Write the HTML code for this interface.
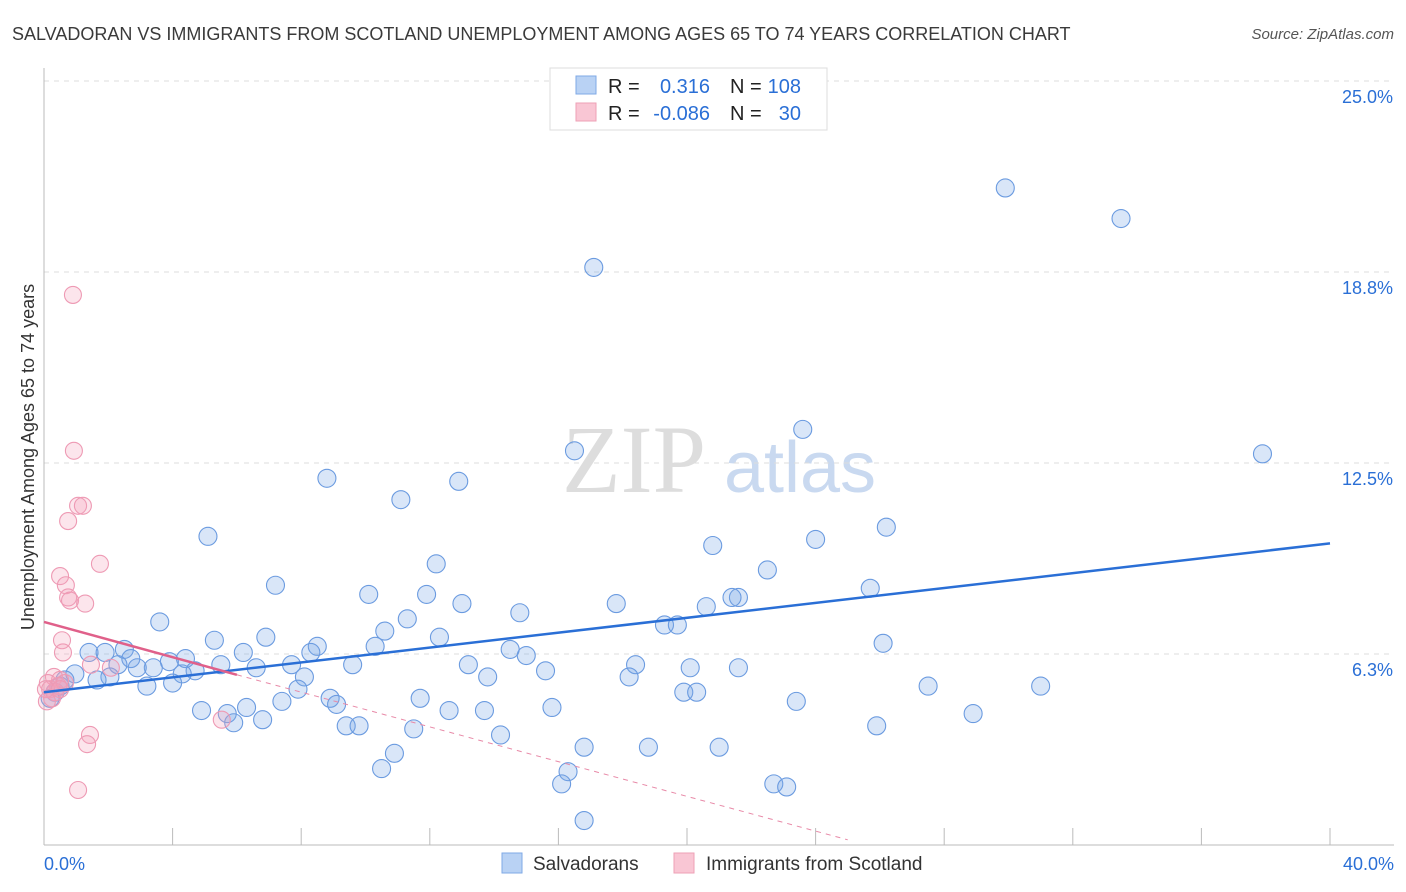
<!DOCTYPE html>
<html><head><meta charset="utf-8"><style>
body{margin:0;background:#fff;font-family:"Liberation Sans",sans-serif}
svg{display:block}
</style></head><body>
<svg id="c" width="1406" height="892" xmlns="http://www.w3.org/2000/svg">
<text x="12" y="40" font-size="18" fill="#3a3a3a">SALVADORAN VS IMMIGRANTS FROM SCOTLAND UNEMPLOYMENT AMONG AGES 65 TO 74 YEARS CORRELATION CHART</text>
<text x="1394" y="39" font-size="15" fill="#555" font-style="italic" text-anchor="end">Source: ZipAtlas.com</text>
<text x="634" y="492" font-size="96" fill="#ddd" font-family="Liberation Serif" text-anchor="middle">ZIP</text>
<text x="800" y="492" font-size="72" fill="#c9d9f0" text-anchor="middle">atlas</text>
<text transform="translate(34,457) rotate(-90)" font-size="18" fill="#333" text-anchor="middle">Unemployment Among Ages 65 to 74 years</text>
<g id="grid"></g><g id="pts"></g><g id="lines"></g>
<g>
<rect x="550" y="68" width="277" height="62" fill="#fff" stroke="#ddd"/>
<rect x="576" y="76" width="20" height="18" fill="#b9d2f4" stroke="#7fa9e6"/>
<rect x="576" y="103" width="20" height="18" fill="#f9c6d4" stroke="#eea0b6"/>
<text x="608" y="93" font-size="20" fill="#222">R = </text><text x="710" y="93" font-size="20" fill="#2a6fd6" text-anchor="end">0.316</text>
<text x="730" y="93" font-size="20" fill="#222">N = </text><text x="801" y="93" font-size="20" fill="#2a6fd6" text-anchor="end">108</text>
<text x="608" y="120" font-size="20" fill="#222">R = </text><text x="710" y="120" font-size="20" fill="#2a6fd6" text-anchor="end">-0.086</text>
<text x="730" y="120" font-size="20" fill="#222">N = </text><text x="801" y="120" font-size="20" fill="#2a6fd6" text-anchor="end">30</text>
</g>
<g>
<rect x="502" y="853" width="20" height="20" fill="#b9d2f4" stroke="#7fa9e6"/>
<text x="533" y="870" font-size="19" fill="#333">Salvadorans</text>
<rect x="674" y="853" width="20" height="20" fill="#f9c6d4" stroke="#eea0b6"/>
<text x="706" y="870" font-size="19" fill="#333">Immigrants from Scotland</text>
</g>
</svg>
<script>
const yTicks=[6.25,12.5,18.75,25];
const yTickLabels=["6.3%","12.5%","18.8%","25.0%"];
const xLabels=["0.0%","40.0%"];
const blueX=[29.9,33.5,17.1,23.6,16.5,37.9,8.8,12.9,11.1,26.2,5.1,20.8,24.0,12.2,22.5,7.2,10.1,11.9,25.7,17.8,13.0,21.6,21.4,20.6,14.8,3.6,11.3,19.3,19.7,10.6,5.3,6.9,12.3,26.1,8.5,10.3,14.5,1.4,1.9,2.5,2.7,6.2,4.4,8.3,15.0,3.9,7.7,6.6,5.5,4.7,2.3,3.4,2.9,9.6,13.2,18.4,20.1,21.6,15.6,0.96,2.05,1.65,4.3,8.1,18.2,13.8,4.0,3.2,7.9,27.5,31.0,19.9,20.3,8.9,11.7,7.4,9.1,23.4,6.3,4.9,5.7,12.6,13.7,15.8,28.9,5.9,6.8,9.4,9.8,11.5,25.9,14.2,18.8,21.0,16.8,10.9,10.5,16.3,22.7,23.1,16.1,16.8,0.5,0.34,0.19,0.65];
const blueY=[21.5,20.5,18.9,13.6,12.9,12.8,12.0,11.9,11.3,10.4,10.1,9.8,10.0,9.2,9.0,8.5,8.2,8.2,8.4,7.9,7.9,8.1,8.1,7.8,7.6,7.3,7.4,7.2,7.2,7.0,6.7,6.8,6.8,6.6,6.5,6.5,6.4,6.3,6.3,6.4,6.1,6.3,6.1,6.3,6.2,6.0,5.9,5.8,5.9,5.7,5.9,5.8,5.8,5.9,5.9,5.9,5.8,5.8,5.7,5.6,5.5,5.4,5.6,5.5,5.5,5.5,5.3,5.2,5.1,5.2,5.2,5.0,5.0,4.8,4.8,4.7,4.6,4.7,4.5,4.4,4.3,4.4,4.4,4.5,4.3,4.0,4.1,3.9,3.9,3.8,3.9,3.6,3.2,3.2,3.2,3.0,2.5,2.4,2.0,1.9,2.0,0.8,5.2,5.0,4.8,5.4];
const pinkX=[0.9,0.93,1.06,1.21,0.75,1.74,0.5,0.68,0.75,0.81,1.28,0.56,0.59,1.46,2.08,0.31,0.5,0.12,0.19,0.34,0.25,0.09,0.44,0.65,1.43,1.34,1.06,5.53,0.06,0.5];
const pinkY=[18.0,12.9,11.1,11.1,10.6,9.2,8.8,8.5,8.1,8.0,7.9,6.7,6.3,5.9,5.8,5.5,5.4,5.3,5.1,5.0,4.8,4.7,5.2,5.3,3.6,3.3,1.8,4.1,5.1,5.1];
const blueLine=[[0,5.0],[40,9.87]];
const pinkSolid=[[0,7.3],[6,5.57]];
const pinkDash=[[6,5.57],[25,0.17]];
const X=v=>44+v*32.15, Y=v=>845-v*30.56;
const NS="http://www.w3.org/2000/svg";
function mk(t,a,p){const e=document.createElementNS(NS,t);for(const k in a)e.setAttribute(k,a[k]);p.appendChild(e);return e;}
const g=document.getElementById('grid');
yTicks.forEach((t,i)=>{
 const l=mk('line',{x1:44,x2:1394,y1:Y(t),y2:Y(t),stroke:'#ddd','stroke-dasharray':'5,5'},g);
 
 
 const tx=mk('text',{x:1393,y:Y(t)+22,'font-size':18,fill:'#2a6fd6','text-anchor':'end'},g);
 tx.textContent=yTickLabels[i];
 
 
});
const ax=mk('line',{x1:44,x2:44,y1:68,y2:845,stroke:'#bbb'},g);


const bx=mk('line',{x1:44,x2:1394,y1:845,y2:845,stroke:'#bbb'},g);


for(let i=0;i<=10;i++){const t=mk('line',{x1:X(i*4),x2:X(i*4),y1:828,y2:845,stroke:'#bbb'},g);
 
 }
[[0,'start',44],[40,'end',1394]].forEach((d,i)=>{const t=mk('text',{x:d[2],y:870,'font-size':18,fill:'#2a6fd6','text-anchor':d[1]},g);t.textContent=xLabels[i];
 
 });
const p=document.getElementById('pts');
blueX.forEach((x,i)=>{const c=mk('circle',{cx:X(x),cy:Y(blueY[i]),r:9,fill:'rgba(120,165,230,0.28)',stroke:'#6b9be0','stroke-width':1.1},p);
 
 });
pinkX.forEach((x,i)=>{const c=mk('circle',{cx:X(x),cy:Y(pinkY[i]),r:8.5,fill:'rgba(245,160,185,0.28)',stroke:'#ee9ab4','stroke-width':1.1},p);
 
 });
const L=document.getElementById('lines');
function ln(a,st,w,da,name){const e=mk('line',{x1:X(a[0][0]),y1:Y(a[0][1]),x2:X(a[1][0]),y2:Y(a[1][1]),stroke:st,'stroke-width':w},L);if(da)e.setAttribute('stroke-dasharray',da);
 
 }
ln(blueLine,'#2a6fd6',2.5,null,'salvadoran-trendline');
ln(pinkSolid,'#e0608a',2.5,null,'scotland-trendline');
ln(pinkDash,'#e88aa8',1,'5,5','scotland-trendline-extension');
</script>
</body></html>
